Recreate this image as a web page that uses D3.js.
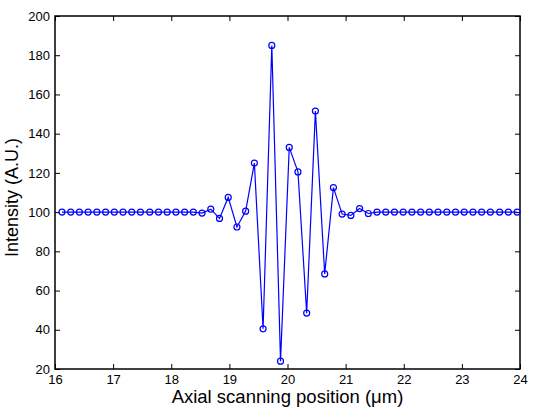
<!DOCTYPE html>
<html lang="en">
<head>
<meta charset="utf-8">
<script src="https://d3js.org/d3.v7.min.js"></script>
<style>
  body { margin: 0; background: #fff; }
  text { font-family: "Liberation Sans", Arial, sans-serif; }
</style>
</head>
<body>
<div id="my_dataviz"></div>
<script>

    // axial positions (um) of the samples
    var positions = [
      16.12, 16.27, 16.42, 16.57, 16.72, 16.87, 17.02, 17.17, 17.32, 17.47,
      17.63, 17.78, 17.93, 18.08, 18.23, 18.38, 18.53, 18.68, 18.83, 18.98,
      19.13, 19.28, 19.43, 19.58, 19.73, 19.88, 20.03, 20.18, 20.33, 20.48,
      20.64, 20.79, 20.94, 21.09, 21.24, 21.39, 21.54, 21.69, 21.84, 21.99,
      22.14, 22.29, 22.44, 22.59, 22.74, 22.89, 23.04, 23.19, 23.34, 23.49,
      23.65, 23.80, 23.95
    ];

    // measured intensity (A.U.)
    var intensity = [
      100, 100, 100, 100, 100, 100, 100, 100, 100, 100,
      100, 100, 100, 100, 100, 100, 99.5, 101.5, 96.8, 107.5,
      92.4, 100.5, 125, 40.5, 185, 24, 133, 120.5, 48.5, 151.5,
      68.5, 112.5, 99, 98.3, 101.8, 99.3, 100, 100, 100, 100,
      100, 100, 100, 100, 100, 100, 100, 100, 100, 100,
      100, 100, 100
    ];

    var xTicks = [16, 17, 18, 19, 20, 21, 22, 23, 24];
    var yTicks = [20, 40, 60, 80, 100, 120, 140, 160, 180, 200];

    var data = positions.map(function(p, i) { return {x: p, y: intensity[i]}; });

    var margin = {top: 16, right: 19, bottom: 40, left: 55},
        width = 539 - margin.left - margin.right,
        height = 409 - margin.top - margin.bottom;

    var svg = d3.select("#my_dataviz")
      .append("svg")
        .attr("width", 539)
        .attr("height", 409)
      .append("g")
        .attr("transform", "translate(" + margin.left + "," + margin.top + ")");

    var x = d3.scaleLinear().domain([16, 24]).range([0, width]);
    var y = d3.scaleLinear().domain([20, 200]).range([height, 0]);

    var tickLen = 5;

    // axes with inward ticks (box style)
    function styleAxis(g) {
      g.select(".domain").remove();
      g.selectAll(".tick line").attr("stroke", "#000").attr("stroke-width", 1);
      g.selectAll(".tick text").style("font-size", "13px").attr("fill", "#000");
    }

    svg.append("g")
      .attr("transform", "translate(0," + height + ")")
      .call(d3.axisBottom(x).tickValues(xTicks).tickFormat(d3.format("d")).tickSizeInner(-tickLen).tickSizeOuter(0).tickPadding(6))
      .call(styleAxis);

    svg.append("g")
      .call(d3.axisTop(x).tickValues(xTicks).tickFormat("").tickSizeInner(-tickLen).tickSizeOuter(0))
      .call(styleAxis);

    svg.append("g")
      .call(d3.axisLeft(y).tickValues(yTicks).tickFormat(d3.format("d")).tickSizeInner(-tickLen).tickSizeOuter(0).tickPadding(5))
      .call(styleAxis);

    svg.append("g")
      .attr("transform", "translate(" + width + ",0)")
      .call(d3.axisRight(y).tickValues(yTicks).tickFormat("").tickSizeInner(-tickLen).tickSizeOuter(0))
      .call(styleAxis);

    // frame
    svg.append("rect")
      .attr("x", 0).attr("y", 0)
      .attr("width", width).attr("height", height)
      .attr("fill", "none")
      .attr("stroke", "#000")
      .attr("stroke-width", 1.5);

    // line
    var line = d3.line()
      .x(function(d) { return x(d.x); })
      .y(function(d) { return y(d.y); });

    svg.append("path")
      .datum(data)
      .attr("fill", "none")
      .attr("stroke", "#0000ff")
      .attr("stroke-width", 1.2)
      .attr("d", line);

    // markers
    svg.append("g")
      .selectAll("circle")
      .data(data)
      .enter()
      .append("circle")
        .attr("cx", function(d) { return x(d.x); })
        .attr("cy", function(d) { return y(d.y); })
        .attr("r", 3)
        .attr("fill", "none")
        .attr("stroke", "#0000ff")
        .attr("stroke-width", 1.2);

    // axis labels
    svg.append("text")
      .attr("text-anchor", "middle")
      .attr("x", width / 2)
      .attr("y", height + 34)
      .style("font-size", "18.5px")
      .text("Axial scanning position (\u03bcm)");

    svg.append("text")
      .attr("text-anchor", "middle")
      .attr("transform", "rotate(-90)")
      .attr("x", -height / 2 - 5)
      .attr("y", -margin.left + 18)
      .style("font-size", "18px")
      .text("Intensity (A.U.)");

</script>
</body>
</html>
